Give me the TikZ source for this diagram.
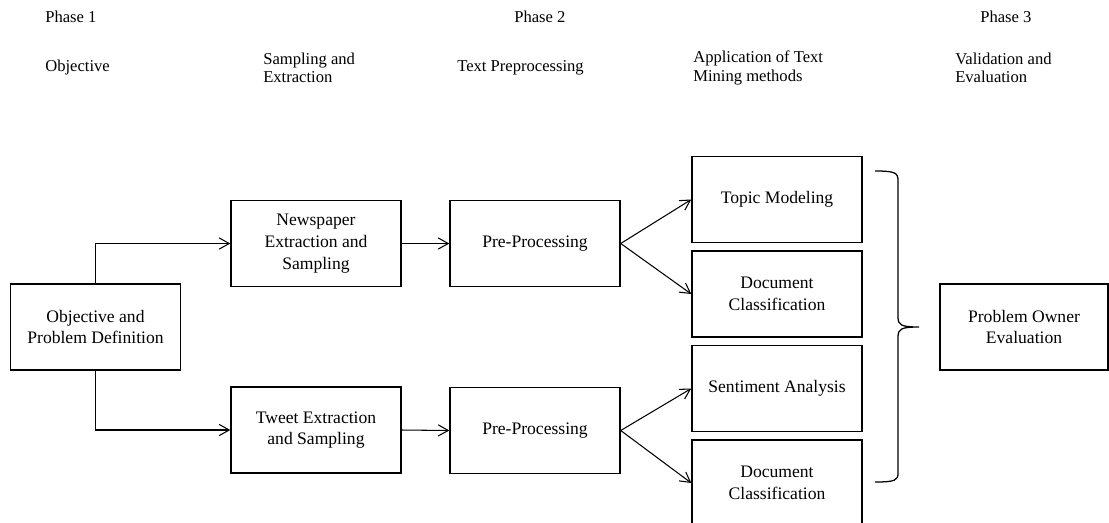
\documentclass[tikz,border=0pt]{standalone}
\usepackage{fontspec}
\setmainfont{Liberation Serif}
\usepackage{tikz}
\usetikzlibrary{arrows.meta,positioning}

\begin{document}
\begin{tikzpicture}[x=0.025cm,y=-0.025cm,
  every node/.style={font=\fontsize{12.5}{15.5}\selectfont},
  hd/.style={anchor=west,align=left,inner sep=0pt,font=\fontsize{11.8}{13}\selectfont},
  bx/.style={draw,line width=1pt,minimum width=4.25cm,minimum height=2.15cm,inner sep=1pt,align=center},
  ar/.style={line width=0.75pt,-{Straight Barb[length=2.5mm,width=2.8mm]}}
]
\useasboundingbox (0,0) rectangle (1109,522);
% column headings
\node[hd] (ph1) at (45,17) {Phase 1};
\node[hd] (ph2) at (514,17) {Phase 2};
\node[hd] (ph3) at (980,17) {Phase 3};
\node[hd] (h1) at (45,68) {Objective};
\node[hd] (h2) at (263,68) {Sampling and\\Extraction};
\node[hd] (h3) at (457,68) {Text Preprocessing};
\node[hd] (h4) at (693,68) {Application of Text\\Mining methods};
\node[hd] (h5) at (955,68) {Validation and\\Evaluation};
% boxes
\node[bx] (obj) at (95.5,327) {Objective and\\Problem Definition};
\node[bx] (news) at (316,243.5) {Newspaper\\Extraction and\\Sampling};
\node[bx] (tweet) at (316,430) {Tweet Extraction\\and Sampling};
\node[bx] (pre1) at (535,243.5) {Pre-Processing};
\node[bx] (pre2) at (535,430.5) {Pre-Processing};
\node[bx] (topic) at (777,199.5) {Topic Modeling};
\node[bx] (doc1) at (777,294) {Document\\Classification};
\node[bx] (senti) at (777,388.5) {Sentiment Analysis};
\node[bx] (doc2) at (777,483) {Document\\Classification};
\node[bx,minimum width=4.2cm] (own) at (1024,327) {Problem Owner\\Evaluation};
% connectors
\draw[ar] (obj.north) |- (news.west);
\draw[ar] (obj.south) |- (tweet.west);
\foreach \a/\b in {news/pre1,tweet/pre2,pre1/topic,pre1/doc1,pre2/senti,pre2/doc2}
  \draw[ar] (\a.east) -- (\b.west);
% brace
\coordinate (bt) at (875,171);
\coordinate (bm) at (919,327);
\coordinate (bb) at (875,482);
\draw[line width=0.9pt] (bt) .. controls (896,171) and (898,173) .. (898,181) -- (898,317)
  .. controls (898,325) and (901,327) .. (bm)
  .. controls (901,327) and (898,329) .. (898,337) -- (898,473)
  .. controls (898,480) and (896,482) .. (bb);
\end{tikzpicture}
\end{document}
